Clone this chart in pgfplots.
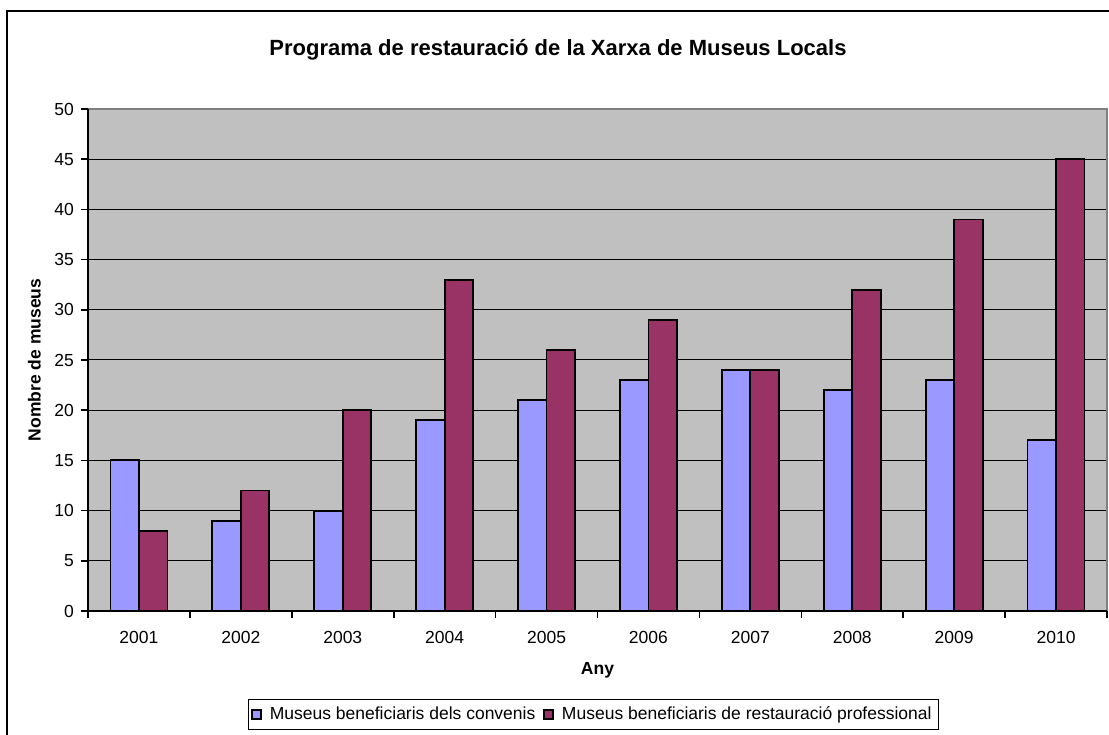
\documentclass[border=0pt]{standalone}
\usepackage{fontspec}
\setmainfont{Liberation Sans}
\usepackage{pgfplots}
\pgfplotsset{compat=1.18}
\definecolor{barblue}{RGB}{153,153,255}
\definecolor{barred}{RGB}{153,51,102}
\definecolor{plotbg}{RGB}{192,192,192}
\definecolor{bordergray}{RGB}{128,128,128}
\begin{document}
\begin{tikzpicture}
\path[use as bounding box] (0,0) rectangle (554.5pt,367pt);
\draw[black, line width=0.8pt] (3.5pt,-10pt) rectangle (570pt,361.5pt);
\node[font=\fontsize{11}{13}\selectfont\bfseries] at (279pt,342pt) {Programa de restauració de la Xarxa de Museus Locals};
\begin{axis}[
  at={(44pt,61.5pt)}, anchor=south west,
  scale only axis, width=509.5pt, height=251pt,
  ybar=0pt, bar width=14.25pt,
  xmin=-0.5, xmax=9.5, ymin=0, ymax=50,
  ytick={0,5,...,50},
  xtick={-0.5,0.5,...,9.5},
  xticklabels={},
  xtick pos=bottom, ytick pos=left,
  extra x ticks={0,...,9},
  extra x tick labels={2001,2002,2003,2004,2005,2006,2007,2008,2009,2010},
  extra x tick style={major tick length=0pt, grid=none, xticklabel style={yshift=-6.5pt}},
  x tick style={black, line width=0.8pt},
  y tick style={black, line width=0.8pt},
  major tick length=3.5pt,
  tick align=outside,
  ymajorgrids, grid style={black, line width=0.5pt},
  axis background/.style={fill=plotbg},
  axis line style={draw=none},
  ticklabel style={font=\fontsize{8.75}{10}\selectfont},
  /pgf/number format/assume math mode=true,
  xlabel={Any}, ylabel={Nombre de museus},
  label style={font=\fontsize{8.75}{10}\selectfont\bfseries},
  xlabel style={yshift=1pt},
  legend style={at={(0.496,-0.206)}, anchor=center, legend columns=2, draw=black, sharp corners,
    font=\fontsize{8.75}{10}\selectfont, inner sep=1.5pt, column sep=2pt},
  legend image code/.code={\draw[#1, draw=black] (0pt,-2.2pt) rectangle (4.4pt,2.2pt);},
  clip=false,
]
\addplot[fill=barblue, draw=black, line width=0.9pt] coordinates {(0,15) (1,9) (2,10) (3,19) (4,21) (5,23) (6,24) (7,22) (8,23) (9,17)};
\addplot[fill=barred, draw=black, line width=0.9pt] coordinates {(0,8) (1,12) (2,20) (3,33) (4,26) (5,29) (6,24) (7,32) (8,39) (9,45)};
\legend{Museus beneficiaris dels convenis, Museus beneficiaris de restauració professional}
\draw[bordergray, line width=0.8pt] (rel axis cs:0,1) -- (rel axis cs:1,1) -- (rel axis cs:1,0);
\draw[black, line width=0.8pt] (rel axis cs:0,1) -- (rel axis cs:0,0) -- (rel axis cs:1,0);
\end{axis}
\end{tikzpicture}
\end{document}
